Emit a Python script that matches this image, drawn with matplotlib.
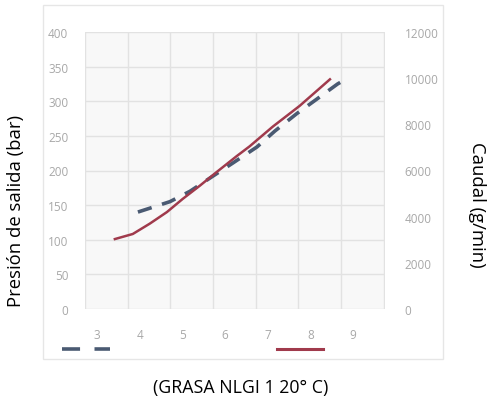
import matplotlib
matplotlib.use("Agg")
import matplotlib.pyplot as plt
from matplotlib.patches import Rectangle
from matplotlib.lines import Line2D

# Data
x_ticks = [3, 4, 5, 6, 7, 8, 9]
pres_x = [3.96, 4.71, 5.18, 5.72, 6.19, 6.75, 7.17, 7.68, 8.15, 8.64, 8.78]
pres_y = [140, 155, 170, 192, 211, 234, 257, 282, 303, 325, 330]
flow_x = [3.42, 3.84, 4.24, 4.64, 5.01, 5.41, 5.81, 6.28, 6.58, 7.12, 7.75, 8.46]
flow_y = [3030, 3250, 3700, 4200, 4770, 5340, 5940, 6630, 7050, 7900, 8800, 9950]
left_ticks = [0, 50, 100, 150, 200, 250, 300, 350, 400]
right_ticks = [0, 2000, 4000, 6000, 8000, 10000, 12000]

plt.rcParams['font.family'] = ['Open Sans', 'DejaVu Sans']

fig = plt.figure(figsize=(4.88, 4.06), dpi=100)
fig.patch.set_facecolor('white')

# chart box
fig.add_artist(Rectangle((43/488, 1-360/406), (443-43)/488, (360-6)/406,
                         transform=fig.transFigure, facecolor='white',
                         edgecolor='#e6e6e6', lw=1.0, zorder=0))

ax = fig.add_axes([85/488, 1-310/406, 300/488, 277/406])
ax.set_facecolor('#f8f8f8')
ax.set_xlim(2.72, 9.75)
ax.set_ylim(0, 400)
ax.set_yticks(left_ticks)
ax.set_xticks(x_ticks)
ax.set_xticks([2.72 + k for k in range(8)], minor=True)
ax.grid(False)
ax.xaxis.grid(True, which='minor', color='#e2e2e2', lw=1)
ax.yaxis.grid(True, which='major', color='#e2e2e2', lw=1)
ax.set_axisbelow(True)
for s in ax.spines.values():
    s.set_visible(False)
ax.tick_params(axis='both', which='both', length=0, colors='#a8a8a8', labelsize=8.5)
ax.tick_params(axis='y', pad=12)
ax.tick_params(axis='x', pad=14)

ax2 = ax.twinx()
ax2.set_ylim(0, 12000)
ax2.set_yticks(right_ticks)
for s in ax2.spines.values():
    s.set_visible(False)
ax2.tick_params(axis='y', length=0, colors='#a8a8a8', labelsize=8.5, pad=14)

l1, = ax.plot(pres_x, pres_y, color='#4a5a72', lw=2.6, dashes=(4, 3), solid_capstyle='butt')
l2, = ax2.plot(flow_x, flow_y, color='#a03a4c', lw=1.8)

leg1 = fig.legend(handles=[Line2D([], [], color='#4a5a72', lw=2.6, dashes=(5, 4))], labels=[''],
                  loc='center', bbox_to_anchor=(86/488, 1-351/406), frameon=False,
                  handlelength=3.4, handletextpad=0, borderpad=0)
leg2 = fig.legend(handles=[Line2D([], [], color='#a03a4c', lw=2.2)], labels=[''],
                  loc='center', bbox_to_anchor=(300/488, 1-351/406), frameon=False,
                  handlelength=3.3, handletextpad=0, borderpad=0)

fig.text(16/488, 1-211/406, 'Presión de salida (bar)', rotation=90, ha='center', va='center',
         fontsize=13.3, color='black')
fig.text(477/488, 1-205/406, 'Caudal (g/min)', rotation=-90, ha='center', va='center',
         fontsize=13.3, color='black')
fig.text(241/488, 1-388/406, '(GRASA NLGI 1 20° C)', ha='center', va='center',
         fontsize=12.8, color='black')

fig.savefig('out.png', dpi=100)
